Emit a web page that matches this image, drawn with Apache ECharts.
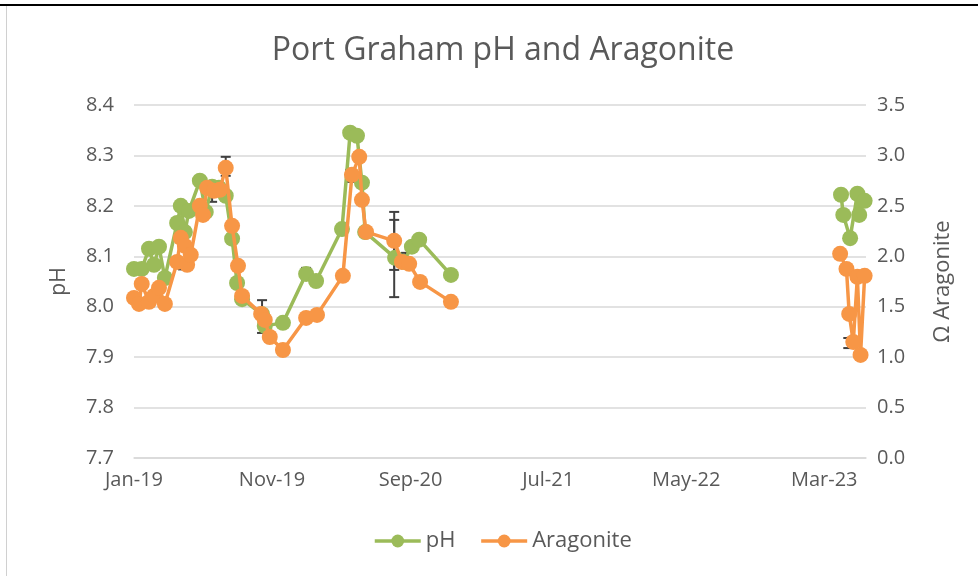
<!DOCTYPE html>
<html><head><meta charset="utf-8">
<script src="https://cdn.jsdelivr.net/npm/echarts@6/dist/echarts.min.js"></script>
<style>html,body{margin:0;padding:0;background:#fff}#c{width:978px;height:576px}</style>
</head><body><div id="c"></div>
<script>
// ---- data ----
const phDates = ['2019-01-01','2019-01-18','2019-02-03','2019-02-14','2019-02-25','2019-03-10','2019-04-06','2019-04-14','2019-04-23','2019-05-02','2019-05-26','2019-06-08','2019-06-22','2019-07-07','2019-07-22','2019-08-05','2019-08-16','2019-08-27','2019-10-10','2019-10-16','2019-11-25','2020-01-15','2020-02-06','2020-04-03','2020-04-21','2020-05-06','2020-05-17','2020-05-24','2020-07-29','2020-08-16','2020-09-04','2020-09-20','2020-11-29','2023-04-07','2023-04-12','2023-04-27','2023-05-13','2023-05-17','2023-05-29'];
const phValues = [8.075,8.075,8.115,8.083,8.119,8.057,8.166,8.200,8.148,8.190,8.250,8.188,8.238,8.236,8.220,8.135,8.047,8.015,7.985,7.962,7.968,8.065,8.051,8.154,8.345,8.339,8.246,8.148,8.097,8.089,8.119,8.133,8.063,8.222,8.182,8.136,8.224,8.182,8.210];
const aragDates = ['2019-01-01','2019-01-12','2019-01-18','2019-02-03','2019-02-14','2019-02-25','2019-03-10','2019-04-06','2019-04-14','2019-04-23','2019-04-28','2019-05-06','2019-05-26','2019-06-02','2019-06-11','2019-06-26','2019-07-09','2019-07-22','2019-08-05','2019-08-18','2019-08-27','2019-10-08','2019-10-16','2019-10-27','2019-11-25','2020-01-15','2020-02-08','2020-04-05','2020-04-25','2020-05-11','2020-05-17','2020-05-26','2020-07-27','2020-08-13','2020-08-29','2020-09-22','2020-11-29','2023-04-05','2023-04-19','2023-04-25','2023-05-04','2023-05-13','2023-05-20','2023-05-29'];
const aragValues = [1.587,1.528,1.726,1.548,1.607,1.687,1.528,1.944,2.183,2.103,1.915,2.014,2.500,2.410,2.679,2.649,2.659,2.877,2.302,1.905,1.607,1.429,1.369,1.200,1.071,1.389,1.419,1.806,2.808,2.986,2.560,2.242,2.153,1.944,1.925,1.746,1.548,2.024,1.875,1.429,1.151,1.796,1.022,1.806];
// error bars
const phErrDates = ['2019-10-10','2020-01-15','2020-07-27'];
const phErrLow  = [7.948,8.053,8.019];
const phErrHigh = [8.013,8.077,8.188];
const aragErrDates = ['2019-04-19','2019-06-22','2019-07-22','2020-04-21','2020-07-27','2020-08-22','2023-04-23'];
const aragErrLow  = [1.87,2.54,2.798,2.738,1.865,1.885,1.09];
const aragErrHigh = [1.94,2.728,2.986,2.857,2.361,2.034,1.19];
// axes
const xTickDates = ['2019-01-01','2019-11-01','2020-09-01','2021-07-01','2022-05-01','2023-03-01'];
const xMin = '2019-01-01', xMax = '2023-06-01';
const monthNames = ['Jan','Feb','Mar','Apr','May','Jun','Jul','Aug','Sep','Oct','Nov','Dec'];

const GREEN = '#9BBB59', ORANGE = '#F79646', TXT = '#595959', ERR = '#404040';
const FONT = 'Open Sans';

function ts(d){ return new Date(d + 'T00:00:00Z').getTime(); }
function withGaps(dates, vals){
  const out = [];
  for (let i = 0; i < dates.length; i++){
    if (i > 0 && ts(dates[i]) - ts(dates[i-1]) > 365*86400000){
      out.push([(ts(dates[i]) + ts(dates[i-1]))/2, null]);
    }
    out.push([ts(dates[i]), vals[i]]);
  }
  return out;
}
function errData(dates, lo, hi){ return dates.map((d,i)=>[ts(d), lo[i], hi[i]]); }
function errRender(params, api){
  const x = api.value(0);
  const p1 = api.coord([x, api.value(1)]);
  const p2 = api.coord([x, api.value(2)]);
  const w = 5;
  const st = {stroke: ERR, lineWidth: 2};
  return {type:'group', children:[
    {type:'line', shape:{x1:p1[0],y1:p1[1],x2:p2[0],y2:p2[1]}, style:st},
    {type:'line', shape:{x1:p1[0]-w,y1:p1[1],x2:p1[0]+w,y2:p1[1]}, style:st},
    {type:'line', shape:{x1:p2[0]-w,y1:p2[1],x2:p2[0]+w,y2:p2[1]}, style:st}
  ]};
}

const chart = echarts.init(document.getElementById('c'), null, {renderer:'canvas'});
chart.setOption({
  animation:false,
  backgroundColor:'#fff',
  textStyle:{fontFamily:FONT},
  title:{text:'Port Graham pH and Aragonite', left:498, textAlign:'center', top:30,
    textStyle:{fontFamily:FONT, fontSize:32, fontWeight:'normal', color:TXT}},
  legend:{bottom:19, left:368, itemWidth:46, itemHeight:16, itemGap:24,
    lineStyle:{width:3.5},
    data:['pH','Aragonite'], textStyle:{fontFamily:FONT, fontSize:22, color:TXT}},
  grid:{left:134, right:112, top:105, bottom:118, containLabel:false},
  xAxis:{type:'value', min:ts(xMin), max:ts(xMax),
    axisLine:{onZero:false, lineStyle:{color:'#D9D9D9', width:1.5}},
    axisTick:{show:false},
    splitLine:{show:false},
    axisLabel:{customValues:xTickDates.map(ts), color:TXT, fontSize:20, fontFamily:FONT, margin:12,
      formatter:function(v){ const d=new Date(v); return monthNames[d.getUTCMonth()]+'-'+String(d.getUTCFullYear()).slice(2); }}
  },
  yAxis:[
    {type:'value', min:7.7, max:8.4, interval:0.1, name:'pH', nameLocation:'middle', nameGap:64,
      nameTextStyle:{fontSize:21, color:TXT, fontFamily:FONT},
      axisLine:{show:false}, axisTick:{show:false},
      splitLine:{lineStyle:{color:'#D9D9D9', width:1.5}},
      axisLabel:{color:TXT, fontSize:20, fontFamily:FONT, margin:20, formatter:v=>v.toFixed(1)}},
    {type:'value', min:0, max:3.5, interval:0.5, name:'Ω Aragonite', nameLocation:'middle', nameGap:66,
      nameTextStyle:{fontSize:22, color:TXT, fontFamily:FONT},
      axisLine:{show:false}, axisTick:{show:false}, splitLine:{show:false},
      axisLabel:{color:TXT, fontSize:20, fontFamily:FONT, margin:11, formatter:v=>v.toFixed(1)}}
  ],
  series:[
    {type:'custom', name:'phErr', yAxisIndex:0, renderItem:errRender, data:errData(phErrDates,phErrLow,phErrHigh), z:1, silent:true, encode:{x:0,y:[1,2]}},
    {type:'custom', name:'aragErr', yAxisIndex:1, renderItem:errRender, data:errData(aragErrDates,aragErrLow,aragErrHigh), z:1, silent:true, encode:{x:0,y:[1,2]}},
    {type:'line', name:'pH', yAxisIndex:0, data:withGaps(phDates,phValues), connectNulls:false,
      symbol:'circle', symbolSize:16, showSymbol:true, color:GREEN,
      lineStyle:{width:3.5, color:GREEN}, itemStyle:{color:GREEN}, z:3},
    {type:'line', name:'Aragonite', yAxisIndex:1, data:withGaps(aragDates,aragValues), connectNulls:false,
      symbol:'circle', symbolSize:16, showSymbol:true, color:ORANGE,
      lineStyle:{width:3.5, color:ORANGE}, itemStyle:{color:ORANGE}, z:4}
  ],
  graphic:[
    {type:'rect', shape:{x:0,y:4,width:978,height:2}, style:{fill:'#000'}, silent:true},
    {type:'rect', shape:{x:6,y:6,width:1,height:570}, style:{fill:'#D0D0D0'}, silent:true}
  ]
});
</script></body></html>
